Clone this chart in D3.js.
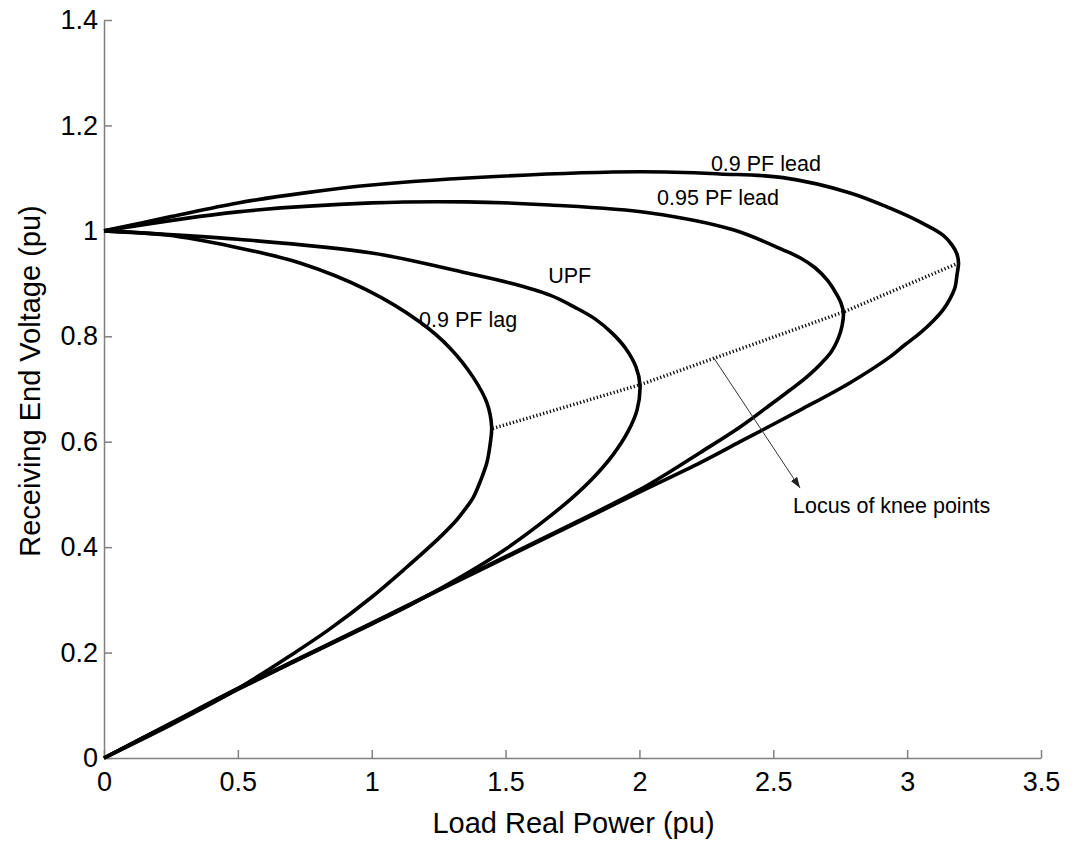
<!DOCTYPE html>
<html>
<head>
<meta charset="utf-8">
<script src="https://cdn.jsdelivr.net/npm/d3@7"></script>
<style>
  body { margin: 0; background: #fff; }
  svg text { font-family: "Liberation Sans", Arial, sans-serif; fill: #000; }
  .axis path, .axis line { stroke: #808080; stroke-width: 1.5; }
</style>
</head>
<body>
<div id="chart"></div>
<script>
var w = 1075,
    h = 841;

// curves: [P, V], upper branch out to the nose then back down to the origin
var pfLag09 = [[0,1],[0.234,0.992],[0.482,0.970],[0.732,0.939],[0.981,0.888],[1.18,0.827],[1.292,0.778],
  [1.378,0.723],[1.43,0.674],[1.448,0.628],[1.442,0.594],[1.43,0.56],[1.408,0.528],[1.38,0.495],
  [1.349,0.472],[1.318,0.452],[1.255,0.419],[1.124,0.359],[0.997,0.304],[0.844,0.245],[0.695,0.194],
  [0.572,0.154],[0.433,0.112],[0.25,0.063],[0,0]];

var upf = [[0,1],[0.5,0.984],[1.0,0.958],[1.355,0.920],[1.517,0.901],[1.666,0.878],[1.759,0.855],
  [1.834,0.833],[1.898,0.806],[1.95,0.776],[1.987,0.742],[2.002,0.708],[1.991,0.66],[1.957,0.619],
  [1.901,0.575],[1.834,0.535],[1.752,0.495],[1.629,0.444],[1.505,0.398],[1.378,0.357],[1.255,0.321],
  [1.143,0.29],[1.0,0.254],[0.75,0.193],[0.5,0.131],[0.25,0.065],[0,0]];

var pfLead095 = [[0,1],[0.5,1.036],[1.0,1.053],[1.352,1.055],[1.666,1.049],[2.04,1.034],[2.35,1.002],
  [2.536,0.964],[2.6,0.949],[2.656,0.93],[2.701,0.907],[2.734,0.882],[2.753,0.863],[2.762,0.844],
  [2.757,0.82],[2.742,0.795],[2.716,0.77],[2.678,0.748],[2.63,0.725],[2.563,0.698],[2.499,0.674],
  [2.376,0.628],[2.226,0.579],[2.114,0.543],[2.002,0.509],[1.75,0.444],[1.5,0.382],[1.25,0.319],
  [1.0,0.256],[0.75,0.194],[0.5,0.132],[0.25,0.066],[0,0]];

var pfLead09 = [[0,1],[0.25,1.027],[0.5,1.053],[0.75,1.072],[1.0,1.087],[1.5,1.104],[2.0,1.112],[2.3,1.108],
  [2.536,1.101],[2.787,1.072],[2.936,1.043],[3.048,1.017],[3.134,0.992],[3.168,0.973],[3.186,0.956],
  [3.192,0.939],[3.186,0.916],[3.179,0.893],[3.16,0.871],[3.134,0.85],[3.097,0.829],[3.048,0.806],
  [2.992,0.784],[2.936,0.761],[2.787,0.712],[2.6,0.66],[2.376,0.60],[2.226,0.56],[2.002,0.505],
  [1.75,0.442],[1.5,0.38],[1.25,0.318],[1.0,0.255],[0.75,0.193],[0.5,0.13],[0.25,0.065],[0,0]];

// knee points of the four curves
var kneeLocus = [[1.452,0.625],[2.002,0.708],[2.762,0.846],[3.192,0.939]];

var xTicks = [0, 0.5, 1, 1.5, 2, 2.5, 3, 3.5];
var xTickLabels = ["0", "0.5", "1", "1.5", "2", "2.5", "3", "3.5"];
var yTicks = [0, 0.2, 0.4, 0.6, 0.8, 1, 1.2, 1.4];
var yTickLabels = ["0", "0.2", "0.4", "0.6", "0.8", "1", "1.2", "1.4"];

var curveNames = ["0.9 PF lead", "0.95 PF lead", "UPF", "0.9 PF lag"];

var svg = d3.select("#chart")
  .append("svg")
  .attr("width", w)
  .attr("height", h);

var x = d3.scaleLinear().domain([0, 3.5]).range([104, 1041]);
var y = d3.scaleLinear().domain([0, 1.4]).range([758, 20]);

// axes, matlab style: ticks pointing in, no box
svg.append("g")
  .attr("class", "axis")
  .attr("transform", "translate(0," + y(0) + ")")
  .call(d3.axisBottom(x).tickValues(xTicks)
    .tickFormat(function(d, i) { return xTickLabels[i]; })
    .tickSizeInner(-8).tickSizeOuter(0).tickPadding(14))
  .selectAll("text").attr("font-size", "27px").style("fill", "#000");

svg.append("g")
  .attr("class", "axis")
  .attr("transform", "translate(" + x(0) + ",0)")
  .call(d3.axisLeft(y).tickValues(yTicks)
    .tickFormat(function(d, i) { return yTickLabels[i]; })
    .tickSizeInner(-8).tickSizeOuter(0).tickPadding(6))
  .selectAll("text").attr("font-size", "27px").style("fill", "#000");

svg.selectAll(".axis .domain").attr("stroke", "#808080");

svg.append("text")
  .attr("x", (x(0) + x(3.5)) / 2 + 1)
  .attr("y", 833)
  .attr("text-anchor", "middle")
  .attr("font-size", "29px")
  .text("Load Real Power (pu)");

svg.append("text")
  .attr("transform", "translate(40," + ((y(0) + y(1.4)) / 2 - 8) + ") rotate(-90)")
  .attr("text-anchor", "middle")
  .attr("font-size", "29px")
  .text("Receiving End Voltage (pu)");

var line = d3.line()
  .x(function(d) { return x(d[0]); })
  .y(function(d) { return y(d[1]); })
  .curve(d3.curveCatmullRom.alpha(0.5));

var curves = [pfLead09, pfLead095, upf, pfLag09];

svg.selectAll(".pv")
  .data(curves)
  .enter()
  .append("path")
  .attr("class", "pv")
  .attr("d", line)
  .attr("fill", "none")
  .attr("stroke", "#000")
  .attr("stroke-width", 3.6)
  .attr("stroke-linejoin", "round");

// locus of knee points
svg.append("path")
  .attr("d", d3.line().x(function(d) { return x(d[0]); }).y(function(d) { return y(d[1]); })(kneeLocus))
  .attr("fill", "none")
  .attr("stroke", "#111")
  .attr("stroke-width", 3.5)
  .attr("stroke-dasharray", "1.3,2.2");

// curve labels, anchored in data units
var labelAt = [[2.267, 1.114], [2.066, 1.049], [1.659, 0.901], [1.177, 0.818]];
svg.selectAll(".lbl")
  .data(curveNames)
  .enter()
  .append("text")
  .attr("class", "lbl")
  .attr("x", function(d, i) { return x(labelAt[i][0]); })
  .attr("y", function(d, i) { return y(labelAt[i][1]); })
  .attr("font-size", "21.5px")
  .text(function(d) { return d; });

// arrow to the locus note
svg.append("defs").append("marker")
  .attr("id", "head")
  .attr("viewBox", "0 0 10 10")
  .attr("refX", 10).attr("refY", 5)
  .attr("markerWidth", 11).attr("markerHeight", 11)
  .attr("markerUnits", "userSpaceOnUse")
  .attr("orient", "auto")
  .append("path")
  .attr("d", "M0,1.5 L10,5 L0,8.5 Z")
  .attr("fill", "#222");

svg.append("line")
  .attr("x1", x(2.275)).attr("y1", y(0.761))
  .attr("x2", x(2.60)).attr("y2", y(0.512))
  .attr("stroke", "#333")
  .attr("stroke-width", 1)
  .attr("marker-end", "url(#head)");

svg.append("text")
  .attr("x", x(2.574))
  .attr("y", y(0.465))
  .attr("font-size", "21.5px")
  .text("Locus of knee points");
</script>
</body>
</html>
